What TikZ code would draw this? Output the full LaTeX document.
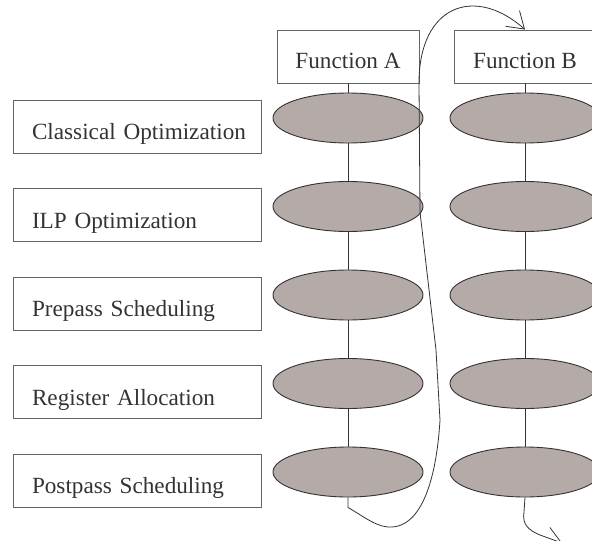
\documentclass[tikz,border=0pt]{standalone}
\usepackage{fontspec}
\setmainfont{Liberation Serif}
\usetikzlibrary{shapes.geometric,arrows.meta}
\definecolor{inkgray}{RGB}{51,51,51}
\definecolor{framegray}{RGB}{100,100,100}
\definecolor{passfill}{RGB}{180,170,167}
\begin{document}
\begin{tikzpicture}[x=1pt,y=-1pt,
  every node/.style={font=\fontsize{23.2}{28}\selectfont, text=inkgray},
  stagebox/.style={draw=framegray, line width=0.9pt, minimum width=248pt,
    minimum height=53pt, inner sep=0pt, text width=248pt,
    align=left, text height=26pt, text depth=0pt,
    execute at begin node={\hspace*{19pt}}},
  funcbox/.style={draw=framegray, line width=0.9pt, minimum width=142pt,
    minimum height=53pt, inner sep=0pt, text height=23pt, text depth=0pt},
  pass/.style={ellipse, draw=inkgray, line width=0.9pt, fill=passfill,
    minimum width=150pt, minimum height=50pt, inner sep=0pt},
  link/.style={draw=inkgray, line width=0.8pt},
  flow/.style={draw=inkgray, line width=0.8pt,
    -{Straight Barb[length=16pt,width=21pt]}}]
\useasboundingbox (0,0) rectangle (592,541);
\clip (0,0) rectangle (592,541);

% compiler stages
\node[stagebox] (s1) at (137,126.5) {Classical Optimization};
\node[stagebox] (s2) at (137,215)   {ILP Optimization};
\node[stagebox] (s3) at (137,303.5) {Prepass Scheduling};
\node[stagebox] (s4) at (137,392)   {Register Allocation};
\node[stagebox] (s5) at (137,480.5) {Postpass Scheduling};

% functions
\node[funcbox] (fa) at (348,56.5) {Function A};
\node[funcbox] (fb) at (525,56.5) {Function B};

% passes per function
\foreach \k/\y in {1/118,2/206.5,3/295,4/383.5,5/472}{
  \node[pass] (a\k) at (348,\y) {};
  \node[pass] (b\k) at (525,\y) {};
}

% vertical links
\draw[link] (fa.south) -- (a1.north);
\draw[link] (fb.south) -- (b1.north);
\foreach \k/\n in {1/2,2/3,3/4,4/5}{
  \draw[link] (a\k.south) -- (a\n.north);
  \draw[link] (b\k.south) -- (b\n.north);
}

% processing order: all of Function A, then on to Function B
\draw[flow] (a5.south) -- ++(0,10)
  .. controls (366,518) and (378,528) .. (392,527)
  .. controls (425,525) and (437,470) .. (440,420)
  -- (436,350) -- (420,212) -- (419,83)
  .. controls (419,5) and (475,-15) .. (fb.north);

\draw[flow] (b5.south) -- (524,512)
  .. controls (522,524) and (528,530) .. (540,535)
  -- (562,543);
\end{tikzpicture}
\end{document}
